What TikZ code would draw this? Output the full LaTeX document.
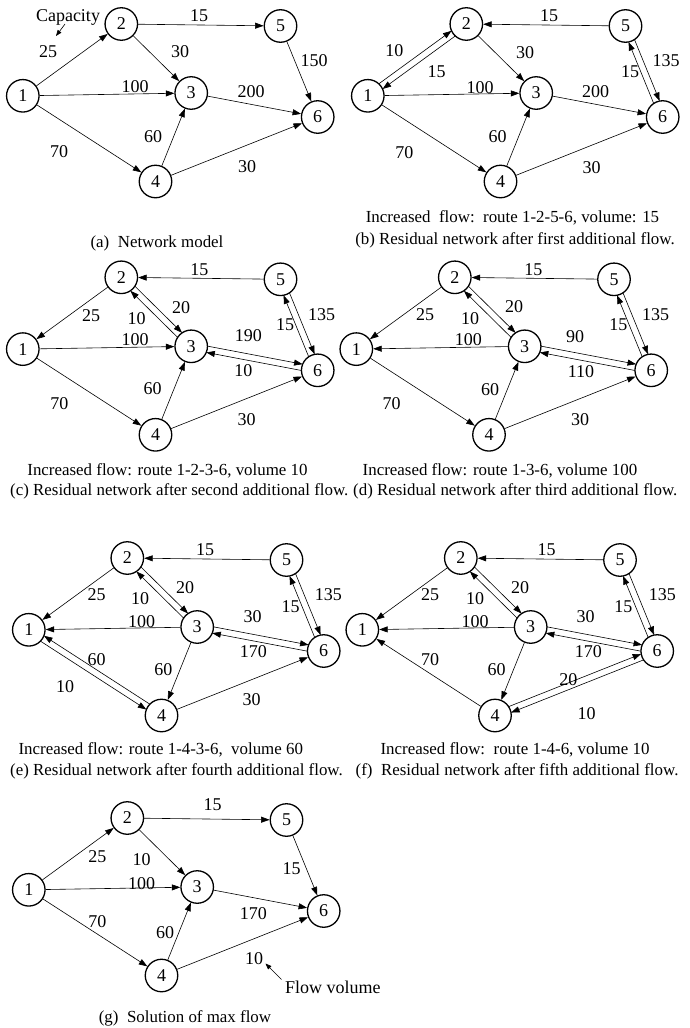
\documentclass[tikz,border=0pt]{standalone}
\usepackage{fontspec}
\setmainfont{Liberation Serif}
\usetikzlibrary{arrows.meta,calc}

% the six vertices of one network, names prefixed by #1
\newcommand\netnodes[1]{%
  \node[vtx] (#11) at (22.8,95.8) {1};
  \node[vtx] (#12) at (121.3,24) {2};
  \node[vtx] (#13) at (191.2,93) {3};
  \node[vtx] (#14) at (155.5,181.5) {4};
  \node[vtx] (#15) at (280.5,26) {5};
  \node[vtx] (#16) at (317.7,117) {6};
}
% plain arc
\newcommand\plainarc[2]{\draw[arr] (#1) -- (#2);}
% one arc of a pair of antiparallel arcs, shifted sideways
\newcommand\oarc[4]{\draw[arr,shorten <=16pt,shorten >=16pt]
  ($(#1)!3.2pt!#3:(#2)$) -- ($(#2)!3.2pt!#4:(#1)$);}
% a number beside an arc
\newcommand\lblat[4]{\node[lbl] (#1) at (#2,#3) {#4};}

\begin{document}
\begin{tikzpicture}[x=1pt,y=-1pt,
  vtx/.style={circle,draw,line width=1.3pt,minimum size=32.5pt,inner sep=0pt,
    font=\fontsize{18}{20}\selectfont},
  arr/.style={-{Triangle[length=8.5pt,width=6pt]},line width=0.6pt},
  smallarr/.style={-{Triangle[length=6pt,width=4.5pt]},line width=0.6pt},
  lbl/.style={inner sep=0pt,font=\fontsize{18}{20}\selectfont},
  captxt/.style={inner sep=0pt,font=\fontsize{16.9}{20}\selectfont}]

\fill[white] (0,0) rectangle (690,1028);
\useasboundingbox (0,0) rectangle (690,1028);

% (a) network model
\begin{scope}
  \netnodes{a}
  \plainarc{a1}{a2} \plainarc{a1}{a3} \plainarc{a1}{a4} \plainarc{a2}{a5} \plainarc{a2}{a3}
  \plainarc{a5}{a6} \plainarc{a3}{a6} \plainarc{a4}{a3} \plainarc{a4}{a6}
  \lblat{a-12}{48}{52}{25} \lblat{a-25}{199}{16}{15} \lblat{a-23}{180}{52}{30}
  \lblat{a-56}{314}{61}{150} \lblat{a-13}{135}{87}{100} \lblat{a-36}{251}{92}{200}
  \lblat{a-43}{153}{137}{60} \lblat{a-14}{59}{152}{70} \lblat{a-46}{247}{167}{30}
  \node[lbl] (a-cap) at (68,17) {Capacity};
  \coordinate (a-captail) at (65,24);
  \coordinate (a-captip) at (56,36);
  \draw[smallarr] (a-captail) -- (a-captip);
  \node[captxt] (a-title) at (157,243) {(a)\ \ Network model};
\end{scope}

% (b) after the first augmentation
\begin{scope}[shift={(345,0)}]
  \netnodes{b}
  \oarc{b1}{b2}{90}{-90} \oarc{b2}{b1}{90}{-90}
  \plainarc{b5}{b2} \plainarc{b2}{b3} \plainarc{b1}{b3} \plainarc{b3}{b6}
  \oarc{b5}{b6}{90}{-90} \oarc{b6}{b5}{90}{-90}
  \plainarc{b4}{b3} \plainarc{b1}{b4} \plainarc{b4}{b6}
  \lblat{b-12}{49.3}{50.7}{10} \lblat{b-21}{91.7}{71.7}{15} \lblat{b-52}{204}{16}{15}
  \lblat{b-23}{180}{52.3}{30} \lblat{b-13}{135}{87.3}{100} \lblat{b-36}{250.7}{91.7}{200}
  \lblat{b-56}{321}{61}{135} \lblat{b-65}{285}{71.7}{15} \lblat{b-43}{152.7}{136.7}{60}
  \lblat{b-14}{59.3}{152.3}{70} \lblat{b-46}{246.7}{167.7}{30}
  \node[captxt] (b-route) at (167.5,218) {Increased\ \ flow:\ \ route 1-2-5-6, volume: 15};
  \node[captxt] (b-title) at (170,240) {(b) Residual network after first additional flow.};
\end{scope}

% (c) after the second augmentation
\begin{scope}[shift={(0,253.3)}]
  \netnodes{c}
  \plainarc{c2}{c1} \plainarc{c5}{c2}
  \oarc{c2}{c3}{90}{-90} \oarc{c3}{c2}{90}{-90}
  \plainarc{c1}{c3}
  \oarc{c3}{c6}{90}{-90} \oarc{c6}{c3}{90}{-90}
  \oarc{c5}{c6}{90}{-90} \oarc{c6}{c5}{90}{-90}
  \plainarc{c4}{c3} \plainarc{c1}{c4} \plainarc{c4}{c6}
  \lblat{c-52}{199.3}{16}{15} \lblat{c-21}{91}{62.7}{25} \lblat{c-32}{136.7}{65}{10}
  \lblat{c-23}{181}{54}{20} \lblat{c-56}{321.7}{61}{135} \lblat{c-65}{285}{71.7}{15}
  \lblat{c-13}{135}{86.7}{100} \lblat{c-36}{248.3}{82.7}{190} \lblat{c-63}{243.3}{117.7}{10}
  \lblat{c-43}{152.7}{135.7}{60} \lblat{c-14}{59.3}{150.7}{70} \lblat{c-46}{246.7}{166.7}{30}
  \node[captxt] (c-route) at (167.5,217.5) {Increased flow: route 1-2-3-6, volume 10};
  \node[captxt,anchor=west] (c-title) at (10,238.5) {(c) Residual network after second additional flow.};
\end{scope}

% (d) after the third augmentation
\begin{scope}[shift={(333.5,253.3)}]
  \netnodes{d}
  \plainarc{d2}{d1} \plainarc{d5}{d2}
  \oarc{d2}{d3}{90}{-90} \oarc{d3}{d2}{90}{-90}
  \plainarc{d3}{d1}
  \oarc{d3}{d6}{90}{-90} \oarc{d6}{d3}{90}{-90}
  \oarc{d5}{d6}{90}{-90} \oarc{d6}{d5}{90}{-90}
  \plainarc{d4}{d3} \plainarc{d1}{d4} \plainarc{d4}{d6}
  \lblat{d-52}{199.8}{16}{15} \lblat{d-21}{91.5}{61}{25} \lblat{d-32}{136.5}{65}{10}
  \lblat{d-23}{180.5}{53.4}{20} \lblat{d-56}{322.2}{61}{135} \lblat{d-65}{284.8}{71.7}{15}
  \lblat{d-31}{134.8}{86.7}{100} \lblat{d-36}{241.5}{83.4}{90} \lblat{d-63}{247.5}{118.4}{110}
  \lblat{d-43}{156.5}{136.7}{60} \lblat{d-14}{58.2}{150.7}{70} \lblat{d-46}{246.5}{166.7}{30}
  \node[captxt] (d-route) at (166.5,217.5) {Increased flow: route 1-3-6, volume 100};
  \node[captxt,anchor=west] (d-title) at (19.5,238.5) {(d) Residual network after third additional flow.};
\end{scope}

% (e) after the fourth augmentation
\begin{scope}[shift={(6,534)}]
  \netnodes{e}
  \plainarc{e2}{e1} \plainarc{e5}{e2}
  \oarc{e2}{e3}{90}{-90} \oarc{e3}{e2}{90}{-90}
  \plainarc{e3}{e1}
  \oarc{e3}{e6}{90}{-90} \oarc{e6}{e3}{90}{-90}
  \oarc{e5}{e6}{90}{-90} \oarc{e6}{e5}{90}{-90}
  \plainarc{e3}{e4}
  \oarc{e4}{e1}{-90}{90} \oarc{e1}{e4}{-90}{90}
  \plainarc{e4}{e6}
  \lblat{e-52}{199}{16}{15} \lblat{e-21}{90.7}{61}{25} \lblat{e-32}{134}{64.3}{10}
  \lblat{e-23}{179}{53.3}{20} \lblat{e-56}{322.3}{61}{135} \lblat{e-65}{284.7}{72.7}{15}
  \lblat{e-31}{135.7}{87.7}{100} \lblat{e-36}{246.7}{82.7}{30} \lblat{e-63}{247.3}{117.7}{170}
  \lblat{e-41}{90.7}{126}{60} \lblat{e-34}{157.3}{136}{60} \lblat{e-14}{59}{152.7}{10}
  \lblat{e-46}{245.7}{166}{30}
  \node[captxt] (e-route) at (154.8,215.7) {Increased flow: route 1-4-3-6,\ \ volume 60};
  \node[captxt,anchor=west] (e-title) at (4,237) {(e) Residual network after fourth additional flow.};
\end{scope}

% (f) after the fifth augmentation
\begin{scope}[shift={(339.5,534)}]
  \netnodes{f}
  \plainarc{f2}{f1} \plainarc{f5}{f2}
  \oarc{f2}{f3}{90}{-90} \oarc{f3}{f2}{90}{-90}
  \plainarc{f3}{f1}
  \oarc{f3}{f6}{90}{-90} \oarc{f6}{f3}{90}{-90}
  \oarc{f5}{f6}{90}{-90} \oarc{f6}{f5}{90}{-90}
  \plainarc{f3}{f4} \plainarc{f4}{f1}
  \oarc{f4}{f6}{90}{-90} \oarc{f6}{f4}{90}{-90}
  \lblat{f-52}{207.2}{16}{15} \lblat{f-21}{90.5}{61}{25} \lblat{f-32}{135.5}{64.3}{10}
  \lblat{f-23}{180.5}{53.3}{20} \lblat{f-56}{322.8}{61}{135} \lblat{f-65}{283.8}{72.7}{15}
  \lblat{f-31}{135.5}{87.7}{100} \lblat{f-36}{246.2}{82.7}{30} \lblat{f-63}{248.8}{117.7}{170}
  \lblat{f-41}{90.5}{126}{70} \lblat{f-34}{157.2}{136}{60} \lblat{f-46}{228.8}{146}{20}
  \lblat{f-64}{247.2}{179.3}{10}
  \node[captxt] (f-route) at (175.5,215.7) {Increased flow:\ \ route 1-4-6, volume 10};
  \node[captxt,anchor=west] (f-title) at (16,237) {(f)\ \ Residual network after fifth additional flow.};
\end{scope}

% (g) maximum flow
\begin{scope}[shift={(6,794)}]
  \netnodes{g}
  \plainarc{g1}{g2} \plainarc{g2}{g5} \plainarc{g2}{g3} \plainarc{g1}{g3} \plainarc{g5}{g6}
  \plainarc{g3}{g6} \plainarc{g1}{g4} \plainarc{g4}{g3} \plainarc{g4}{g6}
  \lblat{g-25}{206.7}{11}{15} \lblat{g-12}{91.3}{62.7}{25} \lblat{g-23}{135.7}{66}{10}
  \lblat{g-56}{285.7}{74.3}{15} \lblat{g-13}{135.7}{89.3}{100} \lblat{g-36}{247.3}{119.3}{170}
  \lblat{g-14}{91.3}{127.7}{70} \lblat{g-43}{159}{138.3}{60} \lblat{g-46}{248}{164.3}{10}
  \coordinate (g-fvtail) at (275.5,185.5);
  \coordinate (g-fvtip) at (259.5,169.5);
  \draw[smallarr] (g-fvtail) -- (g-fvtip);
  \node[lbl,anchor=west] (g-fv) at (279,193) {Flow volume};
  \node[captxt] (g-title) at (179,224.5) {(g)\ \ Solution of max flow};
\end{scope}

\end{tikzpicture}
\end{document}
